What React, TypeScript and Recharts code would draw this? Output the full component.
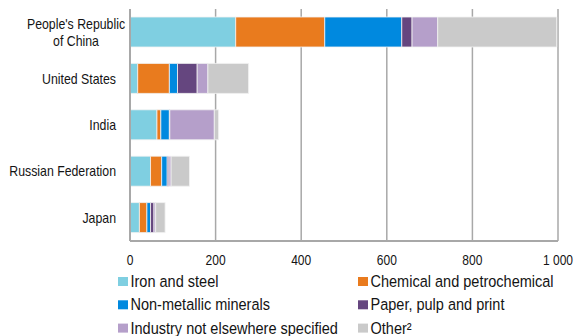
import React from 'react';
import { BarChart, Bar, XAxis, YAxis, CartesianGrid } from 'recharts';

// Países (categorías del eje vertical)
const countries = ['People\'s Republic\nof China', 'United States', 'India', 'Russian Federation', 'Japan'];

// Valores por sector
const ironSteel = [247, 18, 63, 48, 22];
const chemical = [208, 74, 9, 26, 17.5];
const nonMetallic = [180, 19, 20, 13, 8.5];
const paper = [24, 46, 1, 4, 8];
const industryNes = [60, 25, 104, 5, 4];
const other = [278, 95, 10, 43, 22];

const xTicks = [0, 200, 400, 600, 800, 1000];

const series = [
  { key: 'iron', name: 'Iron and steel', values: ironSteel, color: '#7fcfe1' },
  { key: 'chem', name: 'Chemical and petrochemical', values: chemical, color: '#e97b1e' },
  { key: 'nonmet', name: 'Non-metallic minerals', values: nonMetallic, color: '#0089df' },
  { key: 'paper', name: 'Paper, pulp and print', values: paper, color: '#65467f' },
  { key: 'ind', name: 'Industry not elsewhere specified', values: industryNes, color: '#b59fca' },
  { key: 'other', name: 'Other²', values: other, color: '#cacaca' },
];

const data = countries.map((country, i) => {
  const row: Record<string, string | number> = { country };
  series.forEach(s => { row[s.key] = s.values[i]; });
  return row;
});

const FONT = '"Liberation Sans", Arial, sans-serif';
const GRID = '#a8a8a8';
const TEXT = '#141414';
// el texto original es un Arial estrechado
const SQUEEZE = 0.88;

const CategoryTick = (props: any) => {
  const { x, y, payload } = props;
  const lines = String(payload.value).split('\n');
  if (lines.length > 1) {
    return (
      <g transform={`translate(${x - 40},${y}) scale(${SQUEEZE},1)`}>
        <text x={0} y={0} textAnchor="middle" fontSize={14} fill={TEXT} fontFamily={FONT}>
          {lines.map((l, i) => (
            <tspan key={i} x={0} dy={i === 0 ? -3.5 : 17.5}>{l}</tspan>
          ))}
        </text>
      </g>
    );
  }
  return (
    <g transform={`translate(${x},${y}) scale(${SQUEEZE},1)`}>
      <text x={0} y={5} textAnchor="end" fontSize={14} fill={TEXT} fontFamily={FONT}>
        {payload.value}
      </text>
    </g>
  );
};

const ValueTick = (props: any) => {
  const { x, y, payload } = props;
  const label = payload.value >= 1000 ? '1 000' : String(payload.value);
  return (
    <g transform={`translate(${x},${y}) scale(0.86,1)`}>
      <text x={0} y={24} textAnchor="middle" fontSize={14} fill={TEXT} fontFamily={FONT}>
        {label}
      </text>
    </g>
  );
};

const LegendBlock = () => (
  <svg width={575} height={336} style={{ position: 'absolute', left: 0, top: 0, pointerEvents: 'none' }}>
    {series.map((s, i) => {
      const x = i % 2 === 0 ? 118 : 358;
      const base = 287 + Math.floor(i / 2) * 23.3;
      return (
        <g key={s.key}>
          <rect x={x} y={base - 10} width={10} height={9} fill={s.color} />
          <g transform={`translate(${x + 12.5},${base}) scale(0.88,1)`}>
            <text x={0} y={0} fontSize={16.5} fill={TEXT} fontFamily={FONT}>{s.name}</text>
          </g>
        </g>
      );
    })}
  </svg>
);

export default function App() {
  return (
    <div style={{ position: 'absolute', left: 0, top: 0, width: 575, height: 336, background: '#fff' }}>
      <BarChart
        width={575}
        height={336}
        data={data}
        layout="vertical"
        margin={{ top: 9, right: 17, bottom: 65, left: 0 }}
        barSize={30}
      >
        <CartesianGrid horizontal={false} stroke={GRID} strokeWidth={1.5} />
        <XAxis
          type="number"
          domain={[0, 1000]}
          ticks={xTicks}
          axisLine={{ stroke: GRID, strokeWidth: 2 }}
          tickLine={false}
          tickSize={0}
          tickMargin={0}
          height={30}
          tick={<ValueTick />}
        />
        <YAxis
          type="category"
          dataKey="country"
          width={130}
          axisLine={{ stroke: GRID, strokeWidth: 2 }}
          tickLine={false}
          tickSize={0}
          tickMargin={14}
          tick={<CategoryTick />}
          interval={0}
        />
        {series.map(s => (
          <Bar
            key={s.key}
            dataKey={s.key}
            name={s.name}
            stackId="a"
            fill={s.color}
            stroke="#f2f2f2"
            strokeWidth={0.8}
            isAnimationActive={false}
          />
        ))}
      </BarChart>
      <LegendBlock />
    </div>
  );
}
